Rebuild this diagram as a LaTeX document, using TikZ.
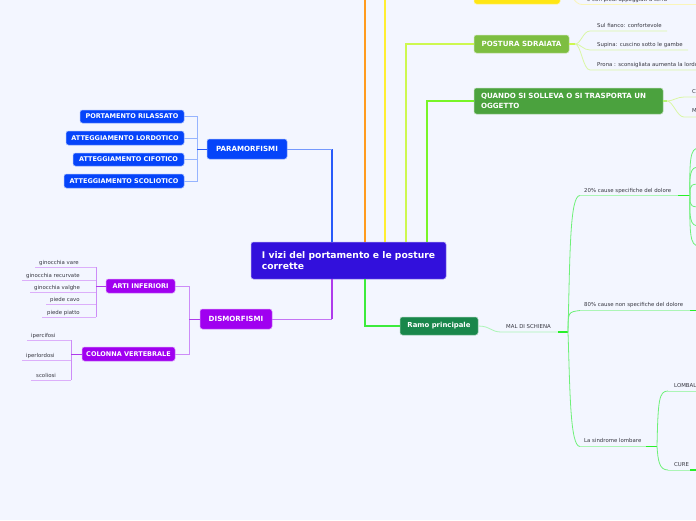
\documentclass[tikz,border=0pt]{standalone}
\usepackage{fontspec}
\setmainfont{DejaVu Sans}

\definecolor{bg}{RGB}{243,246,255}
\definecolor{centreFill}{RGB}{50,16,220}
\definecolor{paraFill}{RGB}{5,68,250}
\definecolor{paraTrunk}{RGB}{40,90,250}
\definecolor{paraPale}{RGB}{150,180,255}
\definecolor{dismoFill}{RGB}{160,0,240}
\definecolor{dismoTrunk}{RGB}{175,60,235}
\definecolor{dismoPale}{RGB}{205,140,248}
\definecolor{lilac}{RGB}{220,175,250}
\definecolor{orangeTrunk}{RGB}{255,155,30}
\definecolor{yellowTrunk}{RGB}{255,238,50}
\definecolor{sunFill}{RGB}{255,230,20}
\definecolor{paleYellow}{RGB}{250,245,185}
\definecolor{limeTrunk}{RGB}{205,248,80}
\definecolor{limeFill}{RGB}{125,190,65}
\definecolor{paleLime}{RGB}{218,246,165}
\definecolor{grassTrunk}{RGB}{120,245,40}
\definecolor{grassFill}{RGB}{75,162,62}
\definecolor{ramoTrunk}{RGB}{60,235,60}
\definecolor{ramoFill}{RGB}{25,135,75}
\definecolor{paleGreen}{RGB}{172,245,182}
\definecolor{midGreen}{RGB}{110,240,120}
\definecolor{brightGreen}{RGB}{40,240,40}
\definecolor{leafText}{RGB}{55,55,65}

\begin{document}
\begin{tikzpicture}[x=1pt, y=-1pt,
    box/.style={rounded corners=2.5pt, inner sep=0pt, text=white, align=center,
        draw=white!55!#1, line width=0.5pt, fill=#1,
        font=\bfseries\fontsize{6.5}{7.5}\selectfont},
    bigbox/.style={box=#1, font=\bfseries\fontsize{7.1}{10}\selectfont},
    leaf/.style={inner sep=0pt, anchor=base west, text=leafText,
        font=\fontsize{5.4}{6}\selectfont},
    trunk/.style={line width=1.3pt, #1},
    twig/.style={line width=0.8pt, #1}]

    % ==== BACKGROUND ====
    \fill[bg] (0,0) rectangle (696,520);
    \useasboundingbox (0,0) rectangle (696,520);

    % ==== CENTRE ====
    \node[box=centreFill, draw=centreFill!45!white, minimum width=195, minimum height=37,
        align=left, font=\bfseries\fontsize{9.2}{11}\selectfont]
        (centre) at (348.5,260.5) {I vizi del portamento e le posture\\corrette};

    % ==== PARAMORFISMI ====
    \node[bigbox=paraFill, minimum width=80, minimum height=20] (para) at (247,149) {PARAMORFISMI};
    \node[box=paraFill, minimum width=104, minimum height=13] (rilassato) at (132,116.5) {PORTAMENTO RILASSATO};
    \node[box=paraFill, minimum width=118, minimum height=14] (lordotico) at (125,138) {ATTEGGIAMENTO LORDOTICO};
    \node[box=paraFill, minimum width=111, minimum height=13] (cifotico) at (128.5,159.5) {ATTEGGIAMENTO CIFOTICO};
    \node[box=paraFill, minimum width=120, minimum height=14] (scoliotico) at (124,181) {ATTEGGIAMENTO SCOLIOTICO};
    \coordinate (paraJ) at (197,149);
    \coordinate (paraK) at (332,149);
    \draw[twig=paraPale] (rilassato.east) -- (rilassato.east -| paraJ) -- (scoliotico.east -| paraJ) -- (scoliotico.east);
    \draw[twig=paraPale] (lordotico.east) -- (lordotico.east -| paraJ);
    \draw[twig=paraPale] (cifotico.east) -- (cifotico.east -| paraJ);
    \draw[twig=paraTrunk] (paraJ) -- (para.west);
    \draw[trunk=paraTrunk] ([xshift=-16.5]centre.north) -- (paraK);
    \draw[twig=paraPale!70!paraTrunk] (paraK) -- (para.east);

    % ==== DISMORFISMI ====
    \node[bigbox=dismoFill, minimum width=72, minimum height=20] (dismo) at (236,319) {DISMORFISMI};
    \node[box=dismoFill, minimum width=69, minimum height=14] (arti) at (140.5,286) {ARTI INFERIORI};
    \node[box=dismoFill, minimum width=93, minimum height=14] (colonna) at (128.5,354) {COLONNA VERTEBRALE};
    \coordinate (dismoJ) at (189,319);
    \coordinate (dismoK) at (332,319);
    \draw[twig=dismoPale] (arti.east) -- (arti.east -| dismoJ) -- (colonna.east -| dismoJ) -- (colonna.east);
    \draw[twig=dismoTrunk] (dismoJ) -- (dismo.west);
    \draw[trunk=dismoTrunk] ([xshift=-16.5]centre.south) -- (dismoK);
    \draw[twig=dismoPale!70!dismoTrunk] (dismoK) -- (dismo.east);

    % ==== ARTI INFERIORI ====
    \coordinate (artiJ) at (96,286);
    \node[leaf] (vare) at (39,264) {ginocchia vare};
    \node[leaf] (recurvate) at (26,277) {ginocchia recurvate};
    \node[leaf] (valghe) at (34,289) {ginocchia valghe};
    \node[leaf] (cavo) at (50,301.5) {piede cavo};
    \node[leaf] (piatto) at (47,314) {piede piatto};
    \coordinate (vareU) at (35,267);
    \coordinate (recurvateU) at (22,280);
    \coordinate (valgheU) at (30,292);
    \coordinate (cavoU) at (46,304.5);
    \coordinate (piattoU) at (42,317);
    \draw[twig=lilac] (vareU) -- (vareU -| artiJ);
    \draw[twig=lilac] (recurvateU) -- (recurvateU -| artiJ);
    \draw[twig=lilac] (valgheU) -- (valgheU -| artiJ);
    \draw[twig=lilac] (cavoU) -- (cavoU -| artiJ);
    \draw[twig=lilac] (piattoU) -- (piattoU -| artiJ);
    \draw[twig=dismoPale] (vareU -| artiJ) -- (piattoU -| artiJ);
    \draw[twig=dismoTrunk] (artiJ) -- (arti.west);

    % ==== COLONNA VERTEBRALE ====
    \coordinate (colJ) at (71,354);
    \node[leaf] (ipercifosi) at (31,337) {ipercifosi};
    \node[leaf] (iperlordosi) at (26,357) {iperlordosi};
    \node[leaf] (scoliosi) at (36,377) {scoliosi};
    \coordinate (ipercifosiU) at (27,340);
    \coordinate (iperlordosiU) at (22,360);
    \coordinate (scoliosiU) at (31,380);
    \draw[twig=lilac] (ipercifosiU) -- (ipercifosiU -| colJ);
    \draw[twig=lilac] (iperlordosiU) -- (iperlordosiU -| colJ);
    \draw[twig=lilac] (scoliosiU) -- (scoliosiU -| colJ);
    \draw[twig=dismoPale] (ipercifosiU -| colJ) -- (scoliosiU -| colJ);
    \draw[twig=dismoTrunk] (colJ) -- (colonna.west);

    % ==== TOP BRANCHES ====
    \coordinate (orangeEnd) at (365,-40);
    \draw[trunk=orangeTrunk] ([xshift=16.5]centre.north) -- (orangeEnd);
    \node[box=sunFill, minimum width=86, minimum height=24] (seduta) at (517,-8) {};
    \draw[trunk=yellowTrunk] ([xshift=36.5]centre.north) |- (seduta.west);
    \coordinate (piediU) at (582,4.5);
    \node[leaf] (piedi) at (587,1.5) {e con piedi appoggiati a terra};
    \draw[twig=paleYellow] (seduta.east) -- ++(6,0) .. controls +(5,0) and +(-8,0) .. (piediU) -- ++(120,0);

    % ==== POSTURA SDRAIATA ====
    \node[bigbox=limeFill, minimum width=95, minimum height=18] (sdraiata) at (521.5,44) {POSTURA SDRAIATA};
    \draw[trunk=limeTrunk] ([xshift=57.5]centre.north) |- (sdraiata.west);
    \coordinate (sdraiataJ) at (575,44);
    \draw[line width=1.3pt, limeTrunk] (sdraiata.east) -- (sdraiataJ);
    \node[leaf] (fianco) at (597,27.5) {Sul fianco: confortevole};
    \node[leaf] (supina) at (597,46.5) {Supina: cuscino sotto le gambe};
    \node[leaf] (prona) at (597,66.5) {Prona : sconsigliata aumenta la lordosi};
    \coordinate (fiancoU) at (590,31);
    \coordinate (supinaU) at (590,50);
    \coordinate (pronaU) at (590,70);
    \draw[twig=paleLime] (sdraiataJ) .. controls +(6,0) and +(-7,0) .. (fiancoU) -- (667,31);
    \draw[twig=paleLime] (sdraiataJ) .. controls +(6,0) and +(-7,0) .. (supinaU) -- (688,50);
    \draw[twig=paleLime] (sdraiataJ) .. controls +(6,0) and +(-7,0) .. (pronaU) -- (700,70);

    % ==== QUANDO SI SOLLEVA ====
    \node[bigbox=grassFill, minimum width=189, minimum height=26, text width=175, align=left]
        (quando) at (568.5,101) {QUANDO SI SOLLEVA O SI TRASPORTA UN\\OGGETTO};
    \draw[trunk=grassTrunk] ([xshift=78.5]centre.north) |- (quando.west);
    \coordinate (quandoJ) at (667,101);
    \draw[line width=1.3pt, paleLime!60!grassTrunk] (quando.east) -- (quandoJ);
    \node[leaf] (cTxt) at (692,93.5) {C};
    \node[leaf] (mTxt) at (692,112.5) {M};
    \coordinate (cU) at (684,97);
    \coordinate (mU) at (684,117);
    \draw[twig=paleLime] (quandoJ) .. controls +(6,0) and +(-7,0) .. (cU) -- (700,97);
    \draw[twig=paleLime] (quandoJ) .. controls +(6,0) and +(-7,0) .. (mU) -- (700,117);

    % ==== RAMO PRINCIPALE ====
    \node[bigbox=ramoFill, minimum width=78, minimum height=18,
        font=\bfseries\fontsize{6.9}{8}\selectfont] (ramo) at (439,326) {Ramo principale};
    \draw[trunk=ramoTrunk] ([xshift=16.5]centre.south) |- (ramo.west);
    \node[leaf] (mal) at (506,328.5) {MAL DI SCHIENA};
    \coordinate (malU) at (501,332);
    \coordinate (malJ) at (568,332);
    \draw[twig=paleGreen] (ramo.east) .. controls +(12,0) and +(-10,0) .. (malU) -- (malJ);
    \draw[line width=1.5pt, brightGreen] ([xshift=-10]malJ) -- (malJ);

    % ==== 20% ====
    \node[leaf] (venti) at (584,192) {20\% cause specifiche del dolore};
    \coordinate (ventiU) at (580,195.5);
    \coordinate (ventiJ) at (690,195.5);
    \draw[twig=midGreen] (malJ) .. controls (570,250) and (570,195.5) .. (ventiU);
    \draw[twig=paleGreen] (ventiU) -- (ventiJ);
    \draw[line width=1.5pt, brightGreen] ([xshift=-12]ventiJ) -- (ventiJ);
    \draw[twig=midGreen] (ventiJ) .. controls (689,148) and (692,148) .. (702,148);
    \draw[twig=midGreen] (ventiJ) .. controls (689,167) and (692,167) .. (702,167);
    \draw[twig=midGreen] (ventiJ) .. controls (689,184) and (692,184) .. (702,184);
    \draw[twig=midGreen] (ventiJ) .. controls (689,207) and (692,207) .. (702,207);
    \draw[twig=midGreen] (ventiJ) .. controls (689,226) and (692,226) .. (702,226);
    \draw[twig=midGreen] (ventiJ) .. controls (689,246) and (692,246) .. (702,246);

    % ==== 80% ====
    \node[leaf] (ottanta) at (584,306.5) {80\% cause non specifiche del dolore};
    \coordinate (ottantaU) at (580,310.5);
    \draw[twig=midGreen] (malJ) .. controls (568,312) .. (ottantaU);
    \draw[twig=paleGreen] (ottantaU) -- (690,310.5);
    \draw[line width=1.5pt, brightGreen] (690,310.5) -- (700,310.5);

    % ==== SINDROME LOMBARE ====
    \node[leaf] (sindrome) at (584,442.5) {La sindrome lombare};
    \coordinate (sindU) at (580,446.5);
    \coordinate (sindJ) at (657,446.5);
    \draw[twig=midGreen] (malJ) .. controls (570,390) and (570,446.5) .. (sindU);
    \draw[twig=paleGreen] (sindU) -- (sindJ);
    \draw[line width=1.5pt, brightGreen] ([xshift=-11]sindJ) -- (sindJ);
    \node[leaf] (lombal) at (674,387.5) {LOMBAL};
    \node[leaf] (cure) at (674,466.5) {CURE};
    \coordinate (lombalU) at (668,391);
    \coordinate (cureU) at (668,470);
    \draw[twig=midGreen] (sindJ) .. controls (658,400) and (659,391) .. (lombalU);
    \draw[twig=midGreen] (sindJ) .. controls (658,460) and (659,470) .. (cureU);
    \draw[twig=paleGreen] (lombalU) -- (700,391);
    \draw[twig=paleGreen] (cureU) -- (690,470);
    \draw[line width=1.5pt, brightGreen] (690,470) -- (700,470);
\end{tikzpicture}
\end{document}
